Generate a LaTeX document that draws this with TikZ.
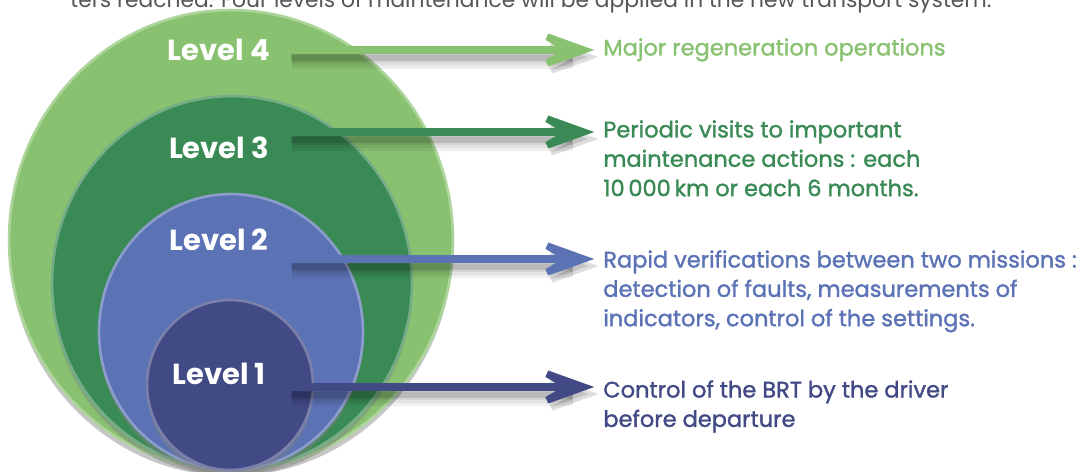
\documentclass[tikz,border=0pt]{standalone}
\usepackage{fontspec}
\setmainfont{Poppins}
\newfontfamily\descfont{Poppins}[FakeBold=1.4]
\usetikzlibrary{arrows.meta,positioning,shapes.geometric,shadows}
\definecolor{lvfour}{HTML}{88C270}
\definecolor{lvthree}{HTML}{3A8A55}
\definecolor{lvtwo}{HTML}{5B72B5}
\definecolor{lvone}{HTML}{414A85}
\definecolor{introgray}{HTML}{555555}
\tikzset{disc/.style={ellipse,inner sep=0pt,line width=1.5pt,drop shadow={shadow xshift=0cm,shadow yshift=-.12cm,opacity=.45}},
  lvlabel/.style={text=white,font=\bfseries\fontsize{16.5}{20}\selectfont},
  desc/.style={align=left,anchor=north west,inner sep=0pt,font=\descfont\fontsize{12.8}{16.7}\selectfont},
  lvarrow/.style={line width=4pt,-{Stealth[length=46pt,width=33pt,inset=28pt]}},
  shaftshadow/.style={black,opacity=.06}}

\begin{document}
\begin{tikzpicture}[x=0.02cm,y=-0.02cm]
\useasboundingbox (0,0) rectangle (1083,471);
\clip (0,0) rectangle (1083,471);

% text of the page above, cut off
\node (intro) [anchor=base west,inner sep=0pt,text=introgray,font=\fontsize{12.4}{15}\selectfont] at (70,7)
  {ters reached. Four levels of maintenance will be applied in the new transport system.};

% nested levels
\node (lv4) [disc,fill=lvfour,draw=lvfour!70!white,minimum width=8.88cm,minimum height=9.2cm] at (231,240) {};
\node (lv3) [disc,fill=lvthree,draw=lvthree!70!white,minimum width=7.2cm,minimum height=7.48cm] at (232,283) {};
\node (lv2) [disc,fill=lvtwo,draw=lvtwo!70!white,minimum width=5.28cm,minimum height=5.52cm] at (231,332) {};
\node (lv1) [disc,fill=lvone,draw=lvone!70!white,minimum width=3.32cm,minimum height=3.4cm] at (230,385) {};

\node (t4) [lvlabel] at (219,50) {Level 4};
\node (t3) [lvlabel] at (219,148) {Level 3};
\node (t2) [lvlabel] at (219,240) {Level 2};
\node (t1) [lvlabel] at (219,374) {Level 1};

% what each level does
\node (d4) [desc,text=lvfour] at (603,38) {Major regeneration operations};
\node (d3) [desc,text=lvthree] at (603,120) {Periodic visits to important\\maintenance actions : each\\10\,000\,km or each 6 months.};
\node (d2) [desc,text=lvtwo] at (603,250) {Rapid verifications between two missions :\\detection of faults, measurements of\\indicators, control of the settings.};
\node (d1) [desc,text=lvone] at (603,380) {Control of the BRT by the driver\\before departure};

\coordinate (a4) at (287,50);
\coordinate (a3) at (287,132);
\coordinate (a2) at (287,259);
\coordinate (a1) at (287,387);

\foreach \n/\c in {4/lvfour,3/lvthree,2/lvtwo,1/lvone}{
  \foreach \w in {5,8,11}
    \draw[shaftshadow,line width=\w pt] ([shift={(5,9)}]a\n) -- ([shift={(-30,9)}]a\n -| d\n.west);
  \draw[lvarrow,black,opacity=.13,shorten >=5pt] ([shift={(4,7)}]a\n) -- ([shift={(4,7)}]a\n -| d\n.west);
  \draw[lvarrow,\c,shorten >=5pt] (a\n) -- (a\n -| d\n.west);
}
\end{tikzpicture}
\end{document}
